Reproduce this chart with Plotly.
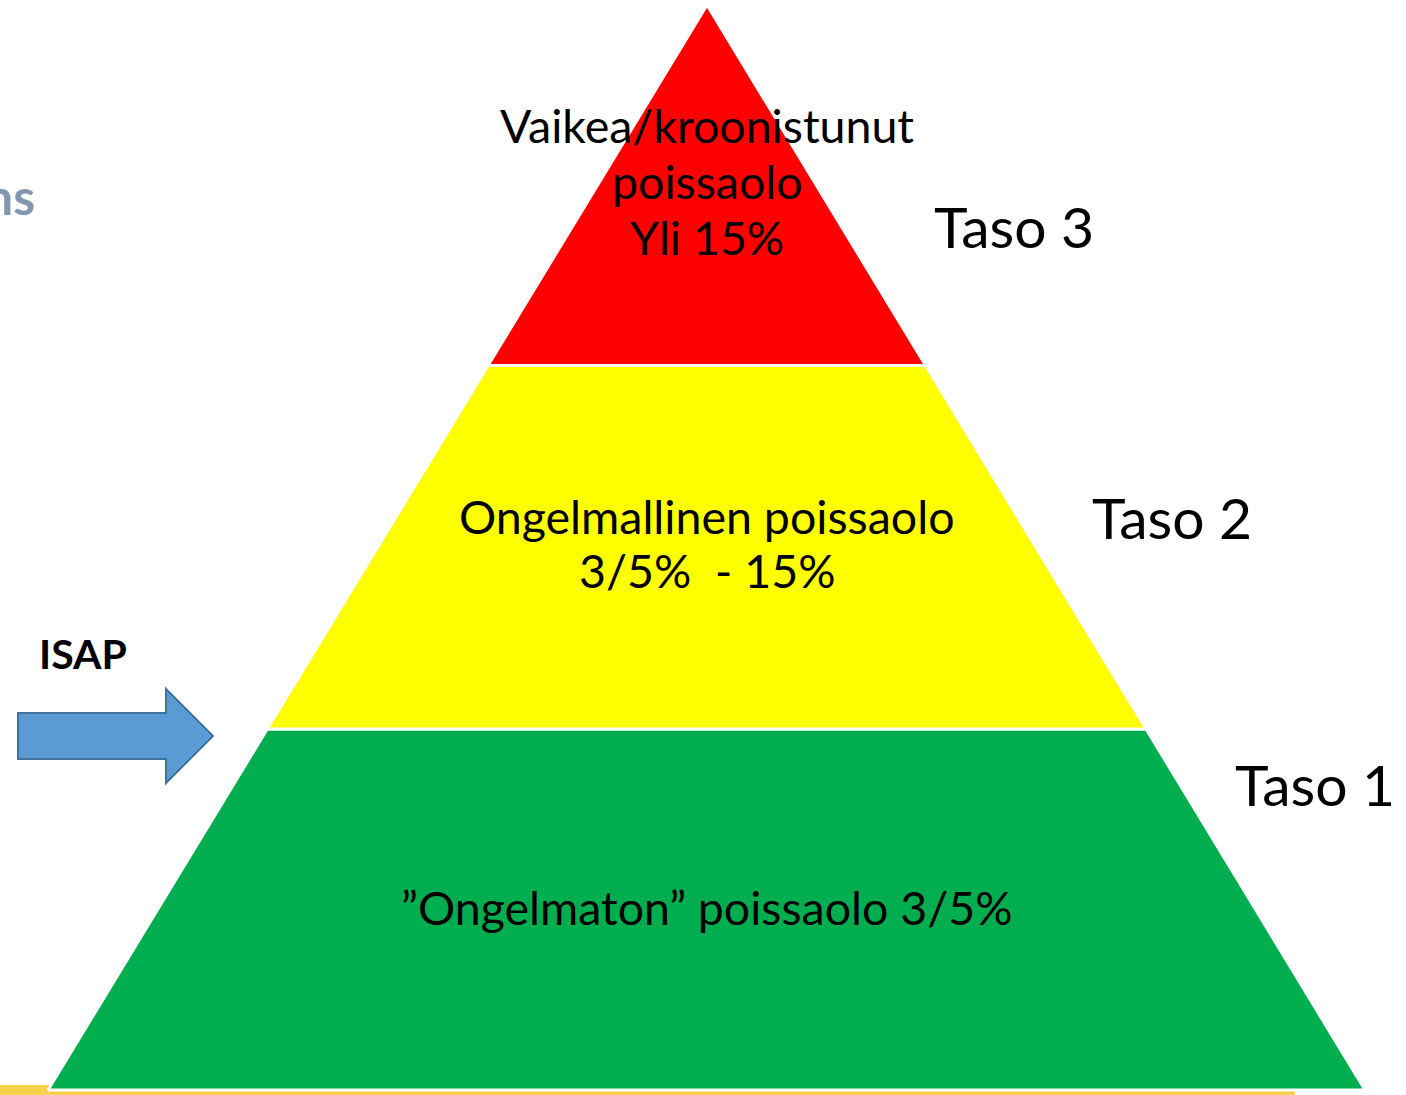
import plotly.graph_objects as go

# ---- data ----
tier_names = ["Taso 1", "Taso 2", "Taso 3"]
tier_lines = [
    ["\u201dOngelmaton\u201d poissaolo 3/5%"],
    ["Ongelmallinen poissaolo", "3/5%  - 15%"],
    ["Vaikea/kroonistunut", "poissaolo", "Yli 15%"],
]
tier_colors = ["#00AE50", "#FFFF00", "#FF0000"]
arrow_label = "ISAP"
cut_word = "ns"

# ---- layout constants (page pixels) ----
W, H = 1406, 1095
apex = (707, 5)
base_y = 1090
base_left, base_right = 48, 1365
bounds = [1090, 729, 365.5, 5]  # tier bottom -> top edges
FONT = "Lato"

def x_at(y, side):
    t = (y - apex[1]) / (base_y - apex[1])
    if side < 0:
        return apex[0] - t * (apex[0] - base_left)
    return apex[0] + t * (base_right - apex[0])

fig = go.Figure()

# gold base line
fig.add_shape(type="rect", x0=-10, x1=1295, y0=1091, y1=1100,
              fillcolor="#F6D24C", line_width=0, layer="below")
fig.add_shape(type="rect", x0=-10, x1=60, y0=1085, y1=1100,
              fillcolor="#F6D24C", line_width=0, layer="below")

for i, name in enumerate(tier_names):
    yb, yt = bounds[i], bounds[i + 1]
    xs = [x_at(yb, -1), x_at(yb, 1), x_at(yt, 1), x_at(yt, -1), x_at(yb, -1)]
    ys = [yb, yb, yt, yt, yb]
    fig.add_trace(go.Scatter(x=xs, y=ys, fill="toself", mode="lines",
                             fillcolor=tier_colors[i],
                             line=dict(color="white", width=3),
                             hoverinfo="skip", showlegend=False))

# tier text
text_centers = [[907], [516, 570], [125, 181, 237]]
for lines, ys in zip(tier_lines, text_centers):
    for line, yc in zip(lines, ys):
        fig.add_annotation(x=707, y=yc, text=line, showarrow=False,
                           xanchor="center", yanchor="middle",
                           font=dict(family=FONT, size=46.5, color="black"))

# tier names
name_pos = [(1233, 784), (1090, 517), (932, 226)]
for name, (xp, yp) in zip(tier_names, name_pos):
    fig.add_annotation(x=xp, y=yp, text=name, showarrow=False,
                       xanchor="left", yanchor="middle",
                       font=dict(family=FONT, size=57, color="black"))

# arrow
ax = [18, 166, 166, 213, 166, 166, 18]
ay = [713, 713, 689, 736, 783, 759, 759]
path = "M " + " L ".join(f"{x},{y}" for x, y in zip(ax, ay)) + " Z"
fig.add_shape(type="path", path=path, fillcolor="#5B9BD5",
              line=dict(color="#41719C", width=2))
fig.add_annotation(x=37, y=653, text=f"<b>{arrow_label}</b>", showarrow=False,
                   xanchor="left", yanchor="middle",
                   font=dict(family=FONT, size=41, color="black"))
fig.add_annotation(x=37, y=196, text=f"<b>{cut_word}</b>", showarrow=False,
                   xanchor="right", yanchor="middle",
                   font=dict(family=FONT, size=50, color="#8497B0"))

fig.update_layout(
    width=W, height=H, margin=dict(l=0, r=0, t=0, b=0),
    paper_bgcolor="white", plot_bgcolor="white",
    xaxis=dict(range=[0, W], visible=False, fixedrange=True),
    yaxis=dict(range=[H, 0], visible=False, fixedrange=True),
)
fig.write_html("out.html",
               config={"displayModeBar": False, "staticPlot": True},
               post_script="document.body.style.margin='0';"
                           "document.body.style.overflow='hidden';")
